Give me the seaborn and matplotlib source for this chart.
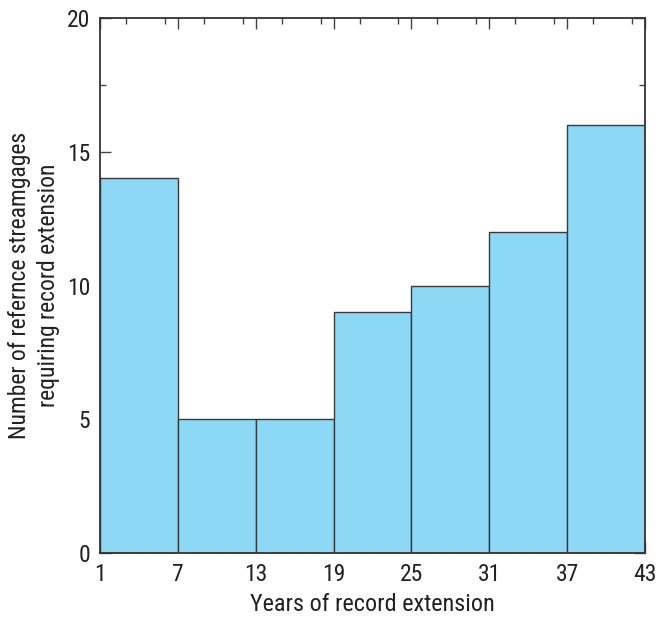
import matplotlib
matplotlib.use("Agg")
import matplotlib.pyplot as plt
from matplotlib import font_manager
from matplotlib.ticker import MultipleLocator, FixedLocator
import seaborn as sns
import pandas as pd

# Bin edges (years of record extension) and number of streamgages per bin
bin_edges = [1, 7, 13, 19, 25, 31, 37, 43]
gage_counts = [14, 5, 5, 9, 10, 12, 16]
bin_centers = [(a + b) / 2 for a, b in zip(bin_edges[:-1], bin_edges[1:])]

df = pd.DataFrame({"years": bin_centers, "count": gage_counts})

sns.set_style("white")

# Prefer a narrow sans face when one is available
names = {f.name for f in font_manager.fontManager.ttflist}
narrow = [n for n in ["Roboto Condensed", "Liberation Sans Narrow",
                      "DejaVu Sans Condensed", "Open Sans Condensed"] if n in names]
plt.rcParams["font.family"] = narrow + ["DejaVu Sans"]
plt.rcParams["font.stretch"] = "condensed"

fig = plt.figure(figsize=(6.57, 6.18), dpi=100)
ax = fig.add_axes([0.152, 0.105, 0.830, 0.866])

sns.histplot(data=df, x="years", weights="count", bins=bin_edges,
             color="#8DD8F5", edgecolor="#3a3a3a", linewidth=1.0,
             alpha=1.0, ax=ax)

ax.set_xlim(1, 43)
ax.set_ylim(0, 20)
ax.xaxis.set_major_locator(FixedLocator(bin_edges))
ax.xaxis.set_minor_locator(MultipleLocator(3))
ax.yaxis.set_major_locator(MultipleLocator(5))
ax.yaxis.set_minor_locator(MultipleLocator(2.5))

for side in ["top", "bottom", "left", "right"]:
    ax.spines[side].set_visible(True)
    ax.spines[side].set_color("#333333")
    ax.spines[side].set_linewidth(1.3)

ax.tick_params(which="both", direction="in", top=True, right=True,
               bottom=True, left=True, color="#444444", width=1.0)
ax.tick_params(which="major", length=8, labelsize=17, pad=7,
               labelcolor="#222222")
ax.tick_params(which="minor", length=4)

ax.set_xlabel("Years of record extension", fontsize=17.5, color="#222222",
              labelpad=5)
ax.set_ylabel("Number of refernce streamgages\nrequiring record extension",
              fontsize=17, color="#222222", labelpad=5, linespacing=1.3)

fig.savefig("out.png", dpi=100)
